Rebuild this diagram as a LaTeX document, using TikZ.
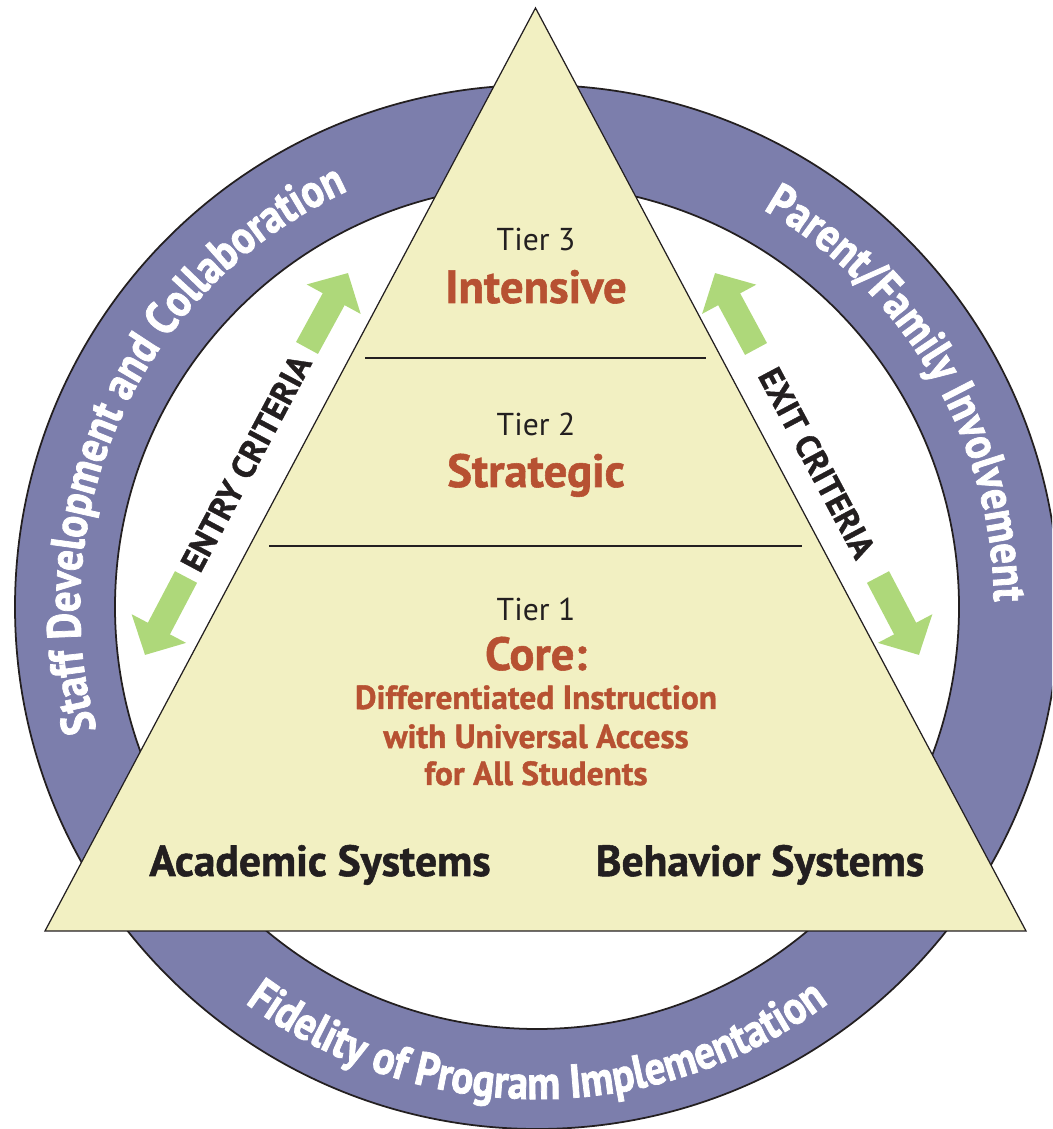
\documentclass[tikz,border=0pt]{standalone}
\usepackage{fontspec}
\setmainfont{PT Sans}[BoldFeatures={FakeBold=1.2}]
\newfontfamily\narrowfont{PT Sans}[FakeStretch=0.86,BoldFeatures={FakeBold=1.6}]
\usepackage{tikz}
\usetikzlibrary{arrows.meta,positioning,calc,decorations.text}
\definecolor{ringblue}{RGB}{124,126,172}
\definecolor{pyramid}{RGB}{242,240,194}
\definecolor{movegreen}{RGB}{174,216,122}
\definecolor{tierred}{RGB}{183,81,50}
\definecolor{ink}{RGB}{35,31,32}

\begin{document}
\begin{tikzpicture}
[x=0.02cm,y=0.02cm,
tier/.style={anchor=base,text=ink,font=\fontsize{18}{20}\selectfont},
level/.style={anchor=base,text=tierred,font=\bfseries\fontsize{26.5}{28}\selectfont},
corenote/.style={anchor=base,text=tierred,font=\bfseries\fontsize{19}{20}\selectfont},
system/.style={anchor=base,text=ink,font=\bfseries\fontsize{24.8}{26}\selectfont},
crit/.style={text=ink,font=\bfseries\fontsize{19}{20}\selectfont},
move/.style={draw=movegreen,line width=14.2pt,-{Triangle[length=17pt,width=34pt]}},
ringtext/.style={decorate,decoration={text along path,text align=center,
  text color=white,text={|\narrowfont\bfseries\fontsize{27}{28}\selectfont|#1}}}]
\useasboundingbox (0,0) rectangle (1052,1129);
\clip (0,0) rectangle (1052,1129);

\coordinate (c) at (537,522);
\fill[ringblue,even odd rule] (c) circle[radius=522] (c) circle[radius=422];
\draw[ink,line width=1pt] (c) circle[radius=522];
\draw[ink,line width=1pt] (c) circle[radius=422];

\path[ringtext={Staff Development and Collaboration}]
  ($(c)+(215:457)$) arc[start angle=215,end angle=95,radius=457];
\path[ringtext={Parent/Family Involvement}]
  ($(c)+(91:457)$) arc[start angle=91,end angle=-30,radius=457];
\path[ringtext={Fidelity of Program Implementation}]
  ($(c)+(205:492)$) arc[start angle=205,end angle=335,radius=492];

\coordinate (apex) at (535.5,1121);
\coordinate (bl) at (45,198);
\coordinate (br) at (1026,198);
\filldraw[fill=pyramid,draw=ink,line width=0.7pt] (apex) -- (bl) -- (br) -- cycle;

\draw[ink,line width=1.5pt] (365,771) -- (706,771);
\draw[ink,line width=1.5pt] (269,583) -- (802,583);

\node[tier] (t3) at (536,878) {Tier 3};
\node[level] (l3) at (536,826) {Intensive};
\node[tier] (t2) at (536,693) {Tier 2};
\node[level] (l2) at (536,642) {Strategic};
\node[tier] (t1) at (536,508) {Tier 1};
\node[level] (l1) at (536,459) {Core:};
\node[corenote] (n1) at (536,420) {Differentiated Instruction};
\node[corenote] (n2) at (536,381) {with Universal Access};
\node[corenote] (n3) at (536,344) {for All Students};
\node[system] (acad) at (320,253) {Academic Systems};
\node[system] (beh) at (760,253) {Behavior Systems};

\coordinate (in1) at (307,781);
\coordinate (in2) at (348,856);
\coordinate (in3) at (186,552);
\coordinate (in4) at (145,474);
\coordinate (out1) at (756,780);
\coordinate (out2) at (715,856);
\coordinate (out3) at (878,552);
\coordinate (out4) at (919,474);
\draw[move] (in1) -- (in2);
\draw[move] (in3) -- (in4);
\draw[move] (out1) -- (out2);
\draw[move] (out3) -- (out4);
\node[crit,rotate=62] (entry) at (246,666) {ENTRY CRITERIA};
\node[crit,rotate=-62] (exit) at (817,666) {EXIT CRITERIA};
\end{tikzpicture}
\end{document}
